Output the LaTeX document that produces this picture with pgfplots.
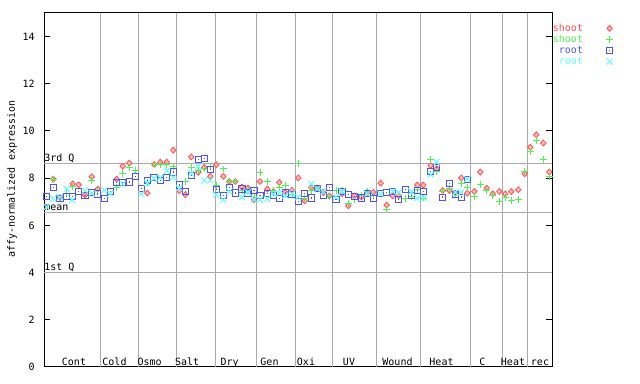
\documentclass[border=0pt]{standalone}
\usepackage{fontspec}
\setmainfont{DejaVu Sans Mono}
\usepackage{pgfplots}
\pgfplotsset{compat=1.18}
\definecolor{cred}{HTML}{FF5050}
\definecolor{credl}{HTML}{FFB8B8}
\definecolor{cgreen}{HTML}{50F050}
\definecolor{cblue}{HTML}{5050FF}
\definecolor{ccyan}{HTML}{60FFFF}
\definecolor{cgrid}{HTML}{AAAAAA}
\pgfdeclareplotmark{sqdot}{%
  \pgfpathrectangle{\pgfpoint{-\pgfplotmarksize}{-\pgfplotmarksize}}{\pgfpoint{2\pgfplotmarksize}{2\pgfplotmarksize}}%
  \pgfusepathqstroke
  \pgfpathrectangle{\pgfpoint{-0.45pt}{-0.45pt}}{\pgfpoint{0.9pt}{0.9pt}}%
  \pgfusepathqfill}
\begin{document}
\begin{tikzpicture}
\useasboundingbox (-33pt,-12.75pt) rectangle (447pt,275.25pt);
\begin{axis}[
  at={(0pt,0pt)}, anchor=south west,
  scale only axis, width=381pt, height=265.5pt,
  xmin=44, xmax=552, ymin=0, ymax=15,
  font=\fontsize{7.5}{9}\selectfont,
  /pgf/number format/assume math mode=true,
  axis line style={line width=0.75pt, black},
  xtick=\empty,
  ytick={0,2,4,6,8,10,12,14},
  ytick pos=both, tick align=inside,
  yticklabel pos=left,
  major tick length=4.3pt,
  major tick style={line width=0.75pt, black},
  yticklabel style={inner sep=0pt, xshift=-6.75pt},
  extra y ticks={4.00,6.56,8.64},
  extra y tick labels={},
  extra y tick style={grid=major, major tick length=0pt},
  extra x ticks={100,138.3,176.7,215,256.7,295,332.3,376.7,420.7,470.7,502.3,527.7},
  extra x tick labels={},
  extra x tick style={grid=major, major tick length=0pt},
  major grid style={line width=0.75pt, cgrid},
  ylabel={affy-normalized expression},
  ylabel style={at={(axis description cs:-0.063,0.531)}, anchor=center},
  legend plot pos=right,
  legend cell align=right,
  legend image code/.code={%
    \path[draw=none, fill=none] (0pt,-1pt) rectangle (23pt,1pt);
    \draw[#1] plot coordinates {(19.5pt,0pt)};},
  legend style={at={(axis description cs:1,0.972)}, anchor=north west,
    draw=none, fill=none, inner sep=0pt, row sep=0.5pt,
    nodes={inner sep=0.5pt, text height=5.5pt, text depth=1.3pt},
    font=\fontsize{7.5}{9}\selectfont},
]
\addplot[only marks, mark=diamond*, mark size=2.2pt, mark options={xscale=1.25, draw=cred, fill=credl, line width=0.6pt}] coordinates {
(53.3,7.96)(60,7.18)(72.7,7.76)(78.7,7.72)(85,7.28)(91.7,8.06)(97.7,7.54)
(116.7,7.96)(122.7,8.51)(129.3,8.64)(147.3,7.37)(154.3,8.58)(160.3,8.68)(166.7,8.68)(173.3,9.19)
(179.3,7.47)(185.3,7.30)(191.3,8.90)(198.3,8.25)(204.3,8.46)(210.3,8.08)
(216.3,8.57)(223.3,8.08)(229.3,7.86)(235.3,7.86)(242,7.62)(248,7.58)(254,7.09)
(260,7.86)(267.3,7.54)(273.3,7.44)(279.3,7.82)(285.3,7.40)(292,7.48)
(298.3,8.01)(304.7,7.04)(311.3,7.60)(317.3,7.58)(323.3,7.40)(329.3,7.25)
(342,7.34)(348.3,6.83)(354.3,7.25)(361.3,7.20)(367.3,7.40)(373.3,7.40)
(380.7,7.79)(386.7,6.86)(392.7,7.25)(398.7,7.25)(417.3,7.71)
(423.3,7.71)(430.7,8.54)(436.7,8.40)(442.7,7.48)(449.3,7.48)(455.3,7.37)(461.3,8.01)(467.3,7.37)
(474.3,7.44)(480.3,8.26)(486.7,7.58)(492.7,7.34)(499.3,7.44)
(505.3,7.33)(511.3,7.43)(518.3,7.51)(524.7,8.19)
(530.3,9.31)(536.3,9.84)(543.3,9.49)(549.3,8.26)
};
\addlegendentry{\textcolor{cred}{shoot}}
\addplot[only marks, mark=+, mark size=2.6pt, mark options={draw=cgreen, line width=0.75pt}] coordinates {
(53.3,7.93)(60,7.14)(66.7,7.34)(72.7,7.65)(91.7,7.89)(97.7,7.48)
(116.7,7.61)(122.7,8.19)(129.3,8.46)(135.3,8.33)(147.3,7.82)(154,8.56)(160.3,8.58)(166.7,8.56)(173.3,8.50)
(185.3,7.85)(191.3,8.47)(198.3,8.33)(204.3,8.39)(210.3,8.50)
(216.3,7.68)(223.3,8.39)(229.3,7.86)(235.3,7.86)(242,7.48)(248,7.48)(254,7.20)
(260,8.26)(267.3,7.86)(273.3,7.48)(279.3,7.62)(285.3,7.71)(292,7.30)
(298.3,8.63)(304.7,7.15)(311.3,7.48)(317.3,7.58)(329.3,7.23)
(336,7.47)(342,7.47)(348.3,6.92)(354.3,7.09)(361.3,7.25)(367.3,7.42)(373.3,7.28)
(386.7,6.69)(405.3,7.13)(411.3,7.23)(417.3,7.50)
(423.3,7.16)(430.7,8.78)(436.7,8.27)(442.7,7.45)(449.3,7.58)(455.3,7.33)(461.3,7.79)(467.3,7.61)
(474.3,7.23)(480.3,7.75)(486.7,7.48)(492.7,7.27)(499.3,7.02)
(505.3,7.19)(511.3,7.06)(518.3,7.11)(524.7,8.29)
(530.3,9.11)(536.3,9.59)(543.3,8.81)(549.3,8.08)
};
\addlegendentry{\textcolor{cgreen}{shoot}}
\addplot[only marks, mark=sqdot, mark size=2.3pt, mark options={draw=cblue, fill=cblue, line width=0.75pt}] coordinates {
(46.7,7.24)(53.3,7.62)(60,7.14)(66.7,7.21)(72.3,7.24)(78.3,7.42)(85,7.28)(91.7,7.38)(97.7,7.33)
(104.3,7.14)(110.3,7.42)(116.3,7.82)(122.7,7.82)(129.3,7.84)(135.3,8.08)
(141.3,7.57)(147.3,7.91)(154,8.03)(160.3,7.91)(166.7,8.03)(173.3,8.26)
(179.3,7.71)(185.3,7.45)(191.3,8.10)(198.3,8.78)(204.3,8.85)(210.3,8.36)
(216.3,7.51)(223.3,7.28)(229.3,7.62)(235.3,7.37)(242,7.54)(248,7.37)(254,7.48)
(260,7.26)(267.3,7.34)(273.3,7.26)(279.3,7.14)(285.3,7.37)(292,7.31)
(298.3,7.00)(304.7,7.34)(311.3,7.16)(317.3,7.58)(323.3,7.28)(329.3,7.62)
(336,7.09)(342,7.45)(348.3,7.31)(354.3,7.23)(361.3,7.16)(367.3,7.34)(373.3,7.13)
(380.7,7.34)(386.7,7.40)(392.7,7.42)(398.7,7.11)(405.3,7.51)(411.3,7.26)(417.3,7.48)
(423.3,7.42)(430.7,8.30)(436.7,8.47)(442.7,7.20)(449.3,7.79)(455.3,7.31)(461.3,7.20)(467.3,7.96)
};
\addlegendentry{\textcolor{cblue}{root}}
\addplot[only marks, mark=x, mark size=3.2pt, mark options={draw=ccyan, line width=0.75pt}] coordinates {
(46.7,6.78)(53.3,7.14)(60,7.20)(66.7,7.55)(72.3,7.07)(85,7.48)(91.7,7.36)
(104.3,7.48)(110.3,7.34)(122.7,7.75)
(141.3,7.33)(147.3,7.80)(154,7.99)(160.3,8.03)(166.7,8.32)(173.3,8.03)
(179.3,7.58)(191.3,8.20)(198.3,8.50)(204.3,7.91)(210.3,7.91)
(216.3,7.30)(223.3,7.09)(229.3,7.44)(242,7.20)(248,7.40)(254,7.09)
(260,7.09)(267.3,7.12)(273.3,7.33)(279.3,7.37)(285.3,7.26)(292,7.34)
(298.3,7.20)(311.3,7.76)(317.3,7.55)(323.3,7.44)
(336,7.20)(342,7.44)(367.3,7.34)
(380.7,7.34)(392.7,7.44)(398.7,7.40)(411.3,7.44)(417.3,7.16)
(423.3,7.16)(430.7,8.15)(436.7,8.68)(455.3,7.40)(461.3,7.40)(467.3,7.96)
};
\addlegendentry{\textcolor{ccyan}{root}}
\begin{scope}[every node/.style={inner sep=0pt, font=\fontsize{7.5}{9}\selectfont}]
\node[anchor=base west, yshift=1.4pt] at (axis cs:44,8.64) {3rd Q};
\node[anchor=base west, yshift=1.4pt] at (axis cs:44,6.56) {mean};
\node[anchor=base west, yshift=1.4pt] at (axis cs:44,4.00) {1st Q};
\node[anchor=base, yshift=0.9pt] at (axis cs:74,0) {Cont};
\node[anchor=base, yshift=0.9pt] at (axis cs:114.5,0) {Cold};
\node[anchor=base, yshift=0.9pt] at (axis cs:149.7,0) {Osmo};
\node[anchor=base, yshift=0.9pt] at (axis cs:187.2,0) {Salt};
\node[anchor=base, yshift=0.9pt] at (axis cs:229.7,0) {Dry};
\node[anchor=base, yshift=0.9pt] at (axis cs:269.5,0) {Gen};
\node[anchor=base, yshift=0.9pt] at (axis cs:306,0) {Oxi};
\node[anchor=base, yshift=0.9pt] at (axis cs:349,0) {UV};
\node[anchor=base, yshift=0.9pt] at (axis cs:397.5,0) {Wound};
\node[anchor=base, yshift=0.9pt] at (axis cs:441.5,0) {Heat};
\node[anchor=base, yshift=0.9pt] at (axis cs:482.5,0) {C};
\node[anchor=base, yshift=-8.25pt] at (axis cs:502.5,0) {suspension};
\node[anchor=base, yshift=0.9pt] at (axis cs:513,0) {Heat};
\node[anchor=base, yshift=0.9pt] at (axis cs:540,0) {rec};
\end{scope}
\end{axis}
\end{tikzpicture}
\end{document}
